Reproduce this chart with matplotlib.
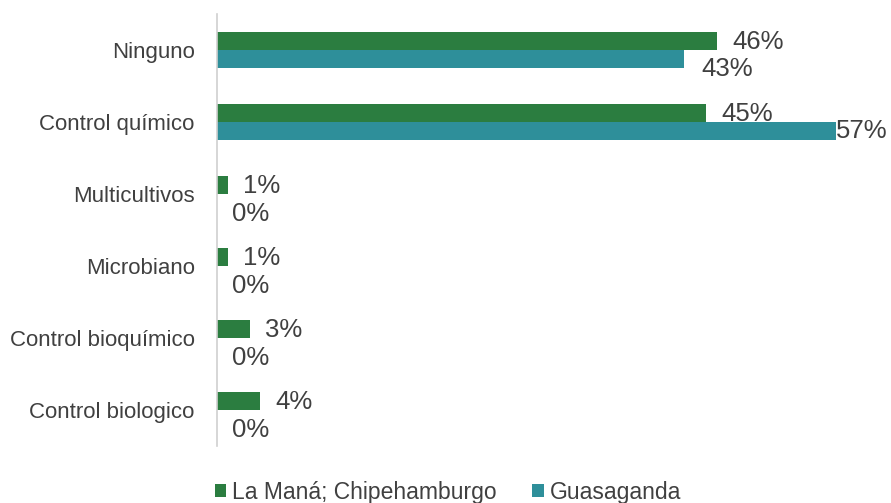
import numpy as np
import matplotlib.pyplot as plt

plt.rcParams['font.family'] = ['Liberation Sans', 'DejaVu Sans']

categorias = ['Ninguno', 'Control químico', 'Multicultivos', 'Microbiano',
              'Control bioquímico', 'Control biologico']
la_mana = [0.46, 0.45, 0.01, 0.01, 0.03, 0.04]
guasaganda = [0.43, 0.57, 0.0, 0.0, 0.0, 0.0]
series = ['La Maná; Chipehamburgo', 'Guasaganda']

verde = '#2b7d40'
azul = '#2e8f9a'
gris = '#404040'

fig = plt.figure(figsize=(8.91, 5.03), dpi=100)
ax = fig.add_axes([217/891, 1 - 446/503, 652/891, 432/503])

y = np.arange(len(categorias))
h = 0.25
b1 = ax.barh(y - h/2, la_mana, height=h, color=verde, label=series[0])
b2 = ax.barh(y + h/2, guasaganda, height=h, color=azul, label=series[1])

# etiquetas de datos (offsets en puntos, como las deja Excel)
for bar, v in zip(b1, la_mana):
    ax.annotate(f'{v:.0%}', (bar.get_width(), bar.get_y() + h/2),
                xytext=(11, -1), textcoords='offset points',
                ha='left', va='center', fontsize=18.5, color=gris)
for bar, v in zip(b2, guasaganda):
    dx, dy = (12, -7) if v > 0 else (11, -8)
    if v > 0.55:
        dx, dy = (0, 0)
    ax.annotate(f'{v:.0%}', (bar.get_width(), bar.get_y() + h/2),
                xytext=(dx, dy), textcoords='offset points',
                ha='left', va='center', fontsize=18.5, color=gris)

ax.set_xlim(0, 0.6)
ax.set_ylim(len(categorias) - 0.5, -0.5)
ax.set_yticks(y)
ax.set_yticklabels(categorias, fontsize=16, color=gris)
ax.tick_params(axis='y', length=0, pad=16)
ax.set_xticks([])
for s in ['top', 'right', 'bottom']:
    ax.spines[s].set_visible(False)
ax.spines['left'].set_color('#d0d0d0')
ax.spines['left'].set_linewidth(1.2)

fig.legend(handles=[b1, b2], labels=series, loc='center',
           bbox_to_anchor=(448/891, 1 - 492/503), ncol=2, frameon=False,
           fontsize=16.5, handlelength=0.5, handleheight=0.5,
           handletextpad=0.26, columnspacing=1.55, labelcolor=gris)

fig.savefig('out.png', dpi=100)
